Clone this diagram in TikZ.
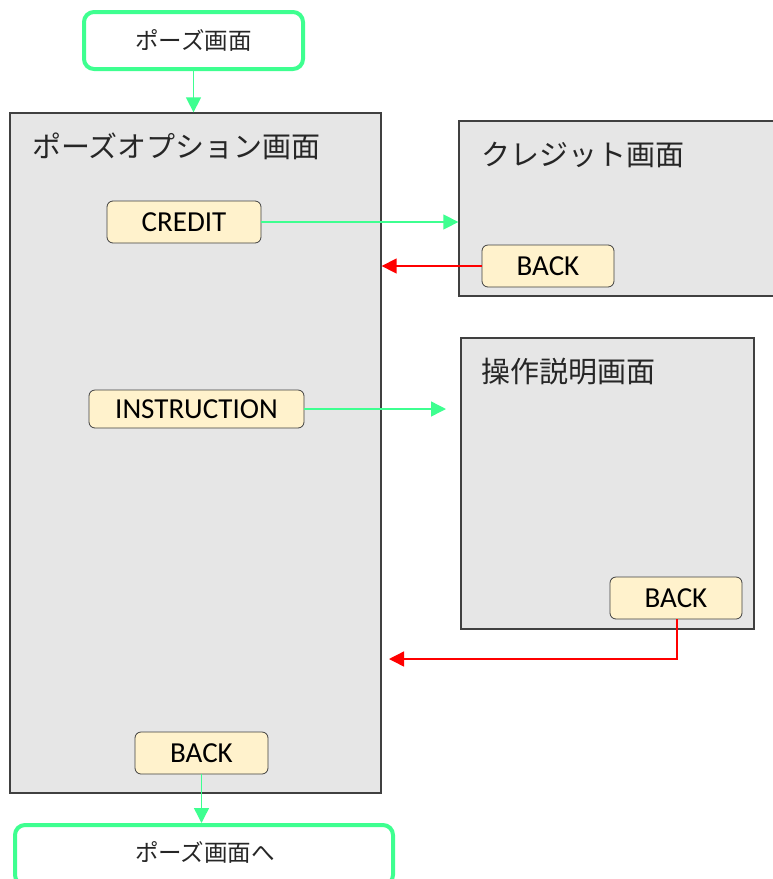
\documentclass[tikz,border=0pt]{standalone}
\usepackage{fontspec}
\setmainfont{Carlito}
\newfontfamily\jp{Noto Sans CJK JP}
\usetikzlibrary{arrows.meta}
\definecolor{grn}{HTML}{3EFF90}
\definecolor{scrfill}{HTML}{E6E6E6}
\definecolor{btnfill}{HTML}{FFF2CC}
\definecolor{edge}{HTML}{404040}
\definecolor{txt}{HTML}{262626}
\tikzset{
  screen/.style={draw=edge, line width=1.3pt, fill=scrfill, inner sep=0pt},
  btn/.style={draw=edge, line width=0.8pt, fill=btnfill, rounded corners=6pt, inner sep=0pt,
    font=\fontsize{29}{33}\selectfont},
  term/.style={draw=grn, line width=4pt, fill=white, rounded corners=10pt, inner sep=0pt,
    font=\jp\fontsize{23.5}{27}\selectfont, text=txt},
  title/.style={anchor=west, inner sep=0pt, font=\jp\fontsize{29}{33}\selectfont, text=txt},
  garrow/.style={draw=grn, line width=1.4pt, -{Triangle[length=15pt,width=15pt]}},
  rarrow/.style={draw=red, line width=1.4pt, -{Triangle[length=15pt,width=15pt]}},
}
\begin{document}
\begin{tikzpicture}[x=1pt,y=-1pt]
\useasboundingbox (0,0) rectangle (773,879);
% screens
\node[screen, minimum width=371pt, minimum height=680pt] (main) at (195.5,453) {};
\node[screen, minimum width=320pt, minimum height=175pt] (crscr) at (619,208.5) {};
\node[screen, minimum width=293pt, minimum height=291pt] (inscr) at (607.5,483.5) {};
\node[title] (maint) at (32,146) {ポーズオプション画面};
\node[title] (crt) at (481,155) {クレジット画面};
\node[title] (int) at (481,372) {操作説明画面};
% terminals
\node[term, minimum width=219pt, minimum height=57pt] (pause) at (193.5,40.5) {ポーズ画面};
\node[term, minimum width=378pt, minimum height=60pt] (ret) at (204,855) {};
\node[inner sep=0pt, font=\jp\fontsize{23.5}{27}\selectfont, text=txt] (rett) at (205,852) {ポーズ画面へ};
% buttons
\node[btn, minimum width=154pt, minimum height=42pt] (credit) at (184,222) {CREDIT};
\node[btn, minimum width=215pt, minimum height=38pt] (instr) at (196.5,409) {INSTRUCTION};
\node[btn, minimum width=132pt, minimum height=42pt] (crback) at (548,266) {BACK};
\node[btn, minimum width=132pt, minimum height=42pt] (inback) at (676,598) {BACK};
\node[btn, minimum width=133pt, minimum height=42pt] (mback) at (201.5,753) {BACK};
% connectors
\coordinate (insttip) at (446,409);
\coordinate (inbend) at (677,659);
\coordinate (inbtip) at (389,659);
\draw[garrow] (pause.south) -- (pause.south |- main.north);
\draw[garrow] (credit.east) -- (credit.east -| crscr.west);
\draw[rarrow] (crback.west) -- (crback.west -| main.east);
\draw[garrow] (instr.east) -- (insttip);
\draw[rarrow] (inbend |- inback.south) -- (inbend) -- (inbtip);
\draw[garrow] (mback.south) -- (mback.south |- ret.north);
\end{tikzpicture}
\end{document}
